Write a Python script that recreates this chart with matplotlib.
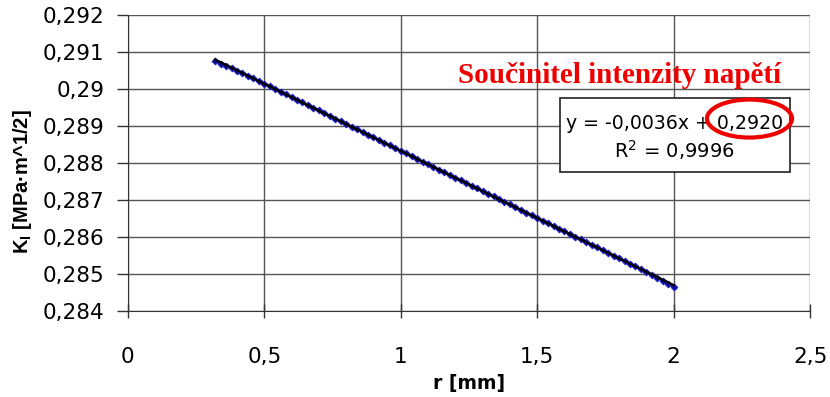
import matplotlib
matplotlib.use("Agg")
import matplotlib.pyplot as plt
from matplotlib.patches import Ellipse, Rectangle
from matplotlib.font_manager import FontProperties
from matplotlib.ticker import FuncFormatter, MultipleLocator
import numpy as np

plt.rcParams['font.family'] = ['DejaVu Sans']
plt.rcParams['mathtext.fontset'] = 'custom'
plt.rcParams['mathtext.rm'] = 'DejaVu Sans'
plt.rcParams['mathtext.bf'] = 'Liberation Sans:bold'

# stress intensity factor K_I read along the distance r from the crack tip
r_mm = [0.32, 0.34, 0.36, 0.38, 0.40, 0.42, 0.44, 0.46, 0.48, 0.50,
        0.52, 0.54, 0.56, 0.58, 0.60, 0.62, 0.64, 0.66, 0.68, 0.70,
        0.72, 0.74, 0.76, 0.78, 0.80, 0.82, 0.84, 0.86, 0.88, 0.90,
        0.92, 0.94, 0.96, 0.98, 1.00, 1.02, 1.04, 1.06, 1.08, 1.10,
        1.12, 1.14, 1.16, 1.18, 1.20, 1.22, 1.24, 1.26, 1.28, 1.30,
        1.32, 1.34, 1.36, 1.38, 1.40, 1.42, 1.44, 1.46, 1.48, 1.50,
        1.52, 1.54, 1.56, 1.58, 1.60, 1.62, 1.64, 1.66, 1.68, 1.70,
        1.72, 1.74, 1.76, 1.78, 1.80, 1.82, 1.84, 1.86, 1.88, 1.90,
        1.92, 1.94, 1.96, 1.98, 2.00]
k_i = [0.290750, 0.290687, 0.290625, 0.290562, 0.290500, 0.290437,
       0.290364, 0.290292, 0.290219, 0.290147, 0.290074, 0.290001,
       0.289929, 0.289856, 0.289784, 0.289711, 0.289638, 0.289566,
       0.289493, 0.289421, 0.289348, 0.289275, 0.289203, 0.289130,
       0.289058, 0.288985, 0.288912, 0.288840, 0.288767, 0.288695,
       0.288622, 0.288549, 0.288477, 0.288404, 0.288332, 0.288259,
       0.288186, 0.288114, 0.288041, 0.287969, 0.287896, 0.287823,
       0.287751, 0.287678, 0.287606, 0.287533, 0.287460, 0.287388,
       0.287315, 0.287243, 0.287170, 0.287097, 0.287025, 0.286952,
       0.286880, 0.286807, 0.286734, 0.286662, 0.286589, 0.286517,
       0.286444, 0.286371, 0.286299, 0.286226, 0.286154, 0.286081,
       0.286008, 0.285936, 0.285863, 0.285791, 0.285718, 0.285645,
       0.285573, 0.285500, 0.285428, 0.285355, 0.285282, 0.285210,
       0.285137, 0.285065, 0.284982, 0.284899, 0.284817, 0.284734,
       0.284652]

eq_text = "y = -0,0036x + 0,2920"
r2_text = "R$^2$ = 0,9996"
title = "Součinitel intenzity napětí"

fig = plt.figure(figsize=(8.3, 3.97), dpi=100)
ax = fig.add_axes([0.154, 0.2166, 0.822, 0.7454])

ax.set_xlim(0, 2.5)
ax.set_ylim(0.284, 0.292)
ax.xaxis.set_major_locator(MultipleLocator(0.5))
ax.yaxis.set_major_locator(MultipleLocator(0.001))

comma = FuncFormatter(lambda v, pos: f"{v:.6g}".replace('.', ','))
ax.xaxis.set_major_formatter(comma)
ax.yaxis.set_major_formatter(comma)

ax.grid(True, color='#555555', linewidth=1.0)
ax.set_axisbelow(True)
for s in ['top', 'right']:
    ax.spines[s].set_visible(False)
for s in ['left', 'bottom']:
    ax.spines[s].set_color('#333333')
ax.tick_params(axis='y', direction='out', length=8, width=1, color='#333333',
               labelsize=15.5, pad=9)
ax.tick_params(axis='x', direction='inout', length=10, width=1, color='#333333',
               labelsize=15.5, pad=21)

ax.plot(r_mm, k_i, color='#0a0a9a', linewidth=1.5, marker='D', markersize=3.5,
        markeredgecolor='#1c1cc8', markeredgewidth=0.6, zorder=3)

# linear trendline
coef = np.polyfit(r_mm, k_i, 1)
xt = np.array([r_mm[0], r_mm[-1]])
ax.plot(xt, np.polyval(coef, xt), color='black', linewidth=1.8, zorder=4)

ax.set_xlabel("r [mm]", fontsize=13.5, fontweight='bold', labelpad=5)
ylab_font = FontProperties(family='Liberation Sans', weight='bold', size=14.5)
ax.set_ylabel(r"K$_{\mathbf{I}}$ [MPa·m^1/2]", fontproperties=ylab_font)
ax.yaxis.set_label_coords(-0.137, 0.437)

ax.text(0.721, 0.797, title, transform=ax.transAxes, ha='center', va='center',
        fontsize=21, fontweight='bold', color='#ee0000',
        family=['Liberation Serif', 'DejaVu Serif'], zorder=6)

# trendline equation box
ax.add_patch(Rectangle((0.633, 0.4696), 0.337, 0.25, transform=ax.transAxes,
                       facecolor='white', edgecolor='#222222', linewidth=1.2,
                       zorder=5))
ax.text(0.802, 0.635, eq_text, transform=ax.transAxes, ha='center',
        va='center', fontsize=13.6, zorder=6)
ax.text(0.801, 0.544, r2_text, transform=ax.transAxes, ha='center',
        va='center', fontsize=14, zorder=6)

ax.add_patch(Ellipse((2.278, 0.289203), 0.3116, 0.001027, fill=False,
                     edgecolor='#ee0000', linewidth=3, zorder=7, clip_on=False))

fig.savefig("out.png", dpi=100)
